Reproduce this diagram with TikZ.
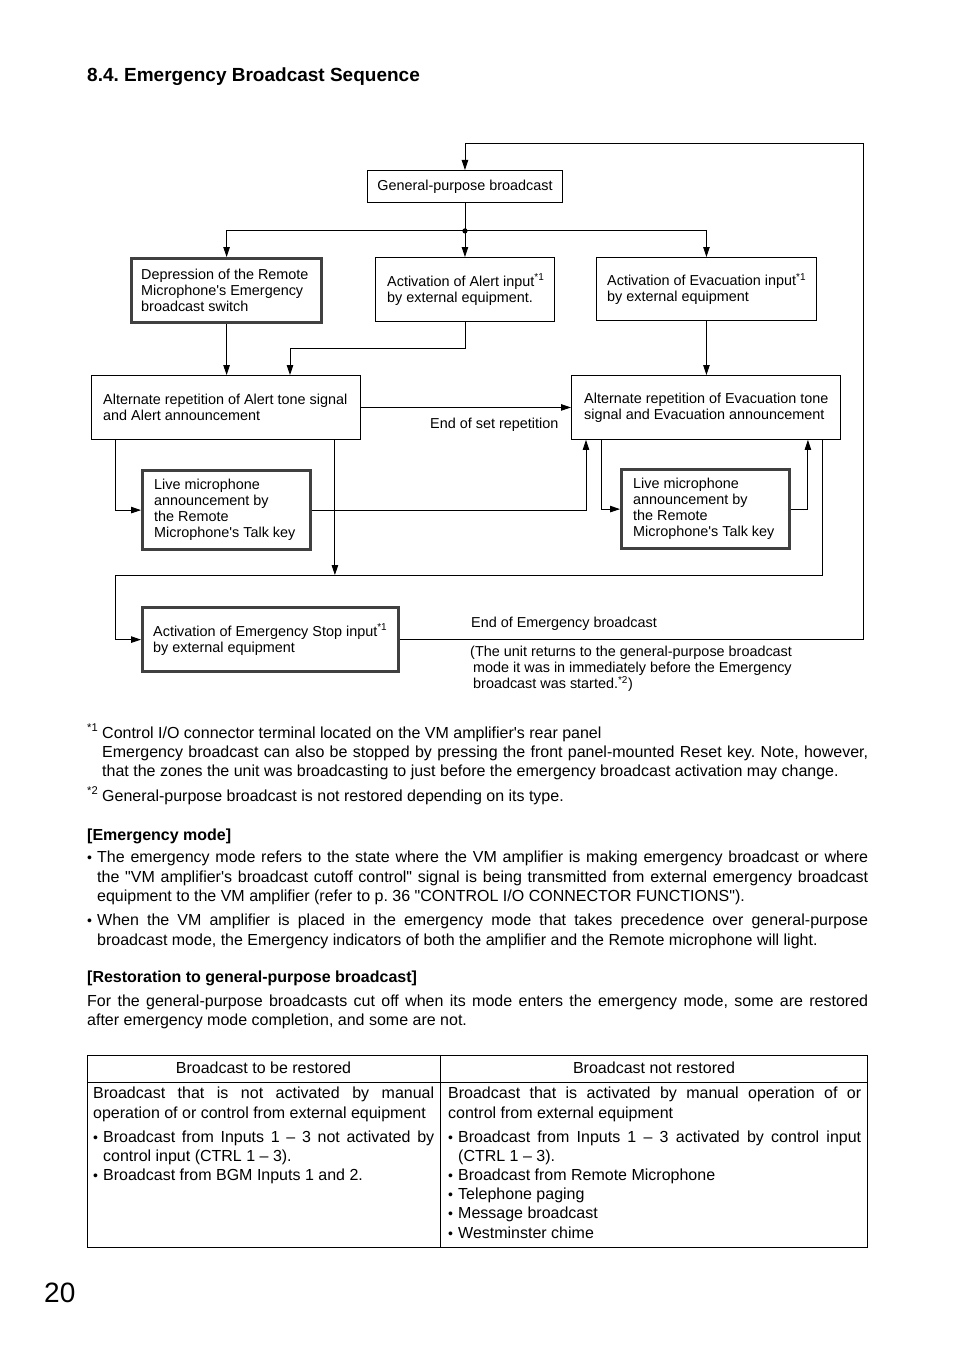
\documentclass[tikz,border=0pt]{standalone}
\usepackage{fontspec}
\setmainfont{Liberation Sans}[Ligatures=TeXOff]
\usetikzlibrary{arrows.meta}
\newcommand\jline[2]{\makebox[#1][s]{#2}}
\newcommand\bul{{\fontsize{14}{14}\selectfont •}}
\frenchspacing
\begin{document}
\begin{tikzpicture}[x=1pt,y=-1pt,
  box/.style={draw, line width=0.9pt, rectangle, inner sep=0pt, anchor=north west},
  tbox/.style={box, line width=3.2pt, draw=black!75},
  dtxt/.style={inner sep=0pt, font=\fontsize{14.4}{16}\selectfont, align=left, anchor=west},
  dlab/.style={inner sep=0pt, font=\fontsize{14.4}{16}\selectfont, anchor=base west},
  btxt/.style={inner sep=0pt, font=\fontsize{16}{19.5}\selectfont, anchor=base west},
  bbold/.style={inner sep=0pt, font=\fontsize{16}{19.5}\selectfont\bfseries, anchor=base west},
  ctxt/.style={inner sep=0pt, font=\fontsize{16}{19.5}\selectfont, anchor=base},
  arr/.style={-{Triangle[length=10pt,width=6.5pt]}, line width=0.9pt},
  ln/.style={line width=0.9pt}]
\fill[white] (0,0) rectangle (954,1351);
\useasboundingbox (0,0) rectangle (954,1351);

% heading
\node[inner sep=0pt, font=\fontsize{19}{23}\selectfont\bfseries, anchor=base west] (head) at (87,82) {8.4. Emergency Broadcast Sequence};

% boxes
\node[box, minimum width=195, minimum height=32] (gp) at (367,170) {};
\node[inner sep=0pt, font=\fontsize{14.4}{16}\selectfont] (gpt) at (gp.center) {General-purpose broadcast};

\node[tbox, minimum width=190, minimum height=64] (dep) at (130,257) {};
\node[dtxt] (dept) at ([xshift=11]dep.west) {Depression of the Remote\\Microphone's Emergency\\broadcast switch};

\node[box, minimum width=179, minimum height=64] (alrt) at (375,257) {};
\node[dtxt] (alrtt) at ([xshift=12]alrt.west) {Activation of Alert input\textsuperscript{*1}\\by external equipment.};

\node[box, minimum width=220, minimum height=63] (evac) at (596,257) {};
\node[dtxt] (evact) at ([xshift=11]evac.west) {Activation of Evacuation input\textsuperscript{*1}\\by external equipment};

\node[box, minimum width=269, minimum height=64] (altA) at (91,375) {};
\node[dtxt] (altAt) at ([xshift=12]altA.west) {Alternate repetition of Alert tone signal\\and Alert announcement};

\node[box, minimum width=269, minimum height=64] (altE) at (571,375) {};
\node[dtxt] (altEt) at ([xshift=13]altE.west) {Alternate repetition of Evacuation tone\\signal and Evacuation announcement};

\node[tbox, minimum width=168, minimum height=79] (liveL) at (141,469) {};
\node[dtxt] (liveLt) at ([xshift=13]liveL.west) {Live microphone\\announcement by\\the Remote\\Microphone's Talk key};

\node[tbox, minimum width=168, minimum height=79] (liveR) at (620,468) {};
\node[dtxt] (liveRt) at ([xshift=13]liveR.west) {Live microphone\\announcement by\\the Remote\\Microphone's Talk key};

\node[tbox, minimum width=256, minimum height=64] (stop) at (141,606) {};
\node[dtxt] (stopt) at ([xshift=12]stop.west) {Activation of Emergency Stop input\textsuperscript{*1}\\by external equipment};

% connectors
\coordinate (rtop) at (863,143);
\draw[arr] (stop.east) -| (rtop) -| (gp.north);
\path (gp.south) ++(0,28) coordinate (j);
\draw[ln] (gp.south) -- (j);
\fill (j) circle (2.6);
\draw[arr] (j) -| (dep.north);
\draw[arr] (j) -- (j |- alrt.north);
\draw[arr] (j) -| (evac.north);
\draw[arr] (dep.south) -- (dep.south |- altA.north);
\coordinate (a1) at (290,348);
\draw[arr] (alrt.south) |- (a1) -- (a1 |- altA.north);
\draw[arr] (evac.south) -- (evac.south |- altE.north);
\draw[arr] (altA.east) -- (altA.east -| altE.west);
\draw[arr] ([xshift=24]altA.south west) |- (liveL.west);
\draw[arr] (liveL.east) -| ([xshift=15]altE.south west);
\coordinate (loopL) at (115,575);
\draw[arr] ([xshift=-26]altA.south east) -- ([xshift=-26]altA.south east |- loopL);
\draw[arr] ([xshift=-18]altE.south east) |- (loopL) |- (stop.west);
\draw[arr] ([xshift=30]altE.south west) |- (liveR.west);
\draw[arr] (liveR.east) -| ([xshift=-33]altE.south east);

% diagram labels
\node[dlab] (lrep) at (430,428) {End of set repetition};
\node[dlab] (lend) at (471,627) {End of Emergency broadcast};
\node[inner sep=0pt, font=\fontsize{14.4}{16}\selectfont, align=left, anchor=north west] (lret) at (470,646) {(The unit returns to the general-purpose broadcast\\\hspace*{3pt}mode it was in immediately before the Emergency\\\hspace*{3pt}broadcast was started.\textsuperscript{*2})};

% footnotes
\node[btxt] (f1m) at (87,738) {\textsuperscript{*1}};
\node[btxt] (f1a) at (102,738) {Control I/O connector terminal located on the VM amplifier's rear panel};
\node[btxt] (f1b) at (102,757) {\jline{766pt}{Emergency broadcast can also be stopped by pressing the front panel-mounted Reset key. Note, however,}};
\node[btxt] (f1c) at (102,776) {that the zones the unit was broadcasting to just before the emergency broadcast activation may change.};
\node[btxt] (f2m) at (87,801) {\textsuperscript{*2}};
\node[btxt] (f2a) at (102,801) {General-purpose broadcast is not restored depending on its type.};

% emergency mode
\node[bbold] (em) at (87,840) {[Emergency mode]};
\node[btxt] (b1) at (87,862) {\bul};
\node[btxt] (e1a) at (97,862) {\jline{771pt}{The emergency mode refers to the state where the VM amplifier is making emergency broadcast or where}};
\node[btxt] (e1b) at (97,882) {\jline{771pt}{the "VM amplifier's broadcast cutoff control" signal is being transmitted from external emergency broadcast}};
\node[btxt] (e1c) at (97,901) {equipment to the VM amplifier (refer to p. 36 "CONTROL I/O CONNECTOR FUNCTIONS").};
\node[btxt] (b2) at (87,925) {\bul};
\node[btxt] (e2a) at (97,925) {\jline{771pt}{When the VM amplifier is placed in the emergency mode that takes precedence over general-purpose}};
\node[btxt] (e2b) at (97,945) {broadcast mode, the Emergency indicators of both the amplifier and the Remote microphone will light.};

% restoration
\node[bbold] (rs) at (87,982) {[Restoration to general-purpose broadcast]};
\node[btxt] (r1) at (87,1006) {\jline{781pt}{For the general-purpose broadcasts cut off when its mode enters the emergency mode, some are restored}};
\node[btxt] (r2) at (87,1025) {after emergency mode completion, and some are not.};

% table
\node[draw, line width=0.9pt, rectangle, inner sep=0pt, anchor=north west, minimum width=780, minimum height=192] (tab) at (87,1055) {};
\coordinate (hl) at (87,1082);
\coordinate (cv) at (440,1055);
\draw[ln] (hl) -- (hl -| tab.east);
\draw[ln] (cv) -- (cv |- tab.south);
\node[ctxt] (h1) at (263.5,1073) {Broadcast to be restored};
\node[ctxt] (h2) at (654,1073) {Broadcast not restored};

\node[btxt] (l1) at (93,1098) {\jline{341pt}{Broadcast that is not activated by manual}};
\node[btxt] (l2) at (93,1118) {operation of or control from external equipment};
\node[btxt] (lb1) at (93,1142) {\bul};
\node[btxt] (l3) at (103,1142) {\jline{331pt}{Broadcast from Inputs 1 – 3 not activated by}};
\node[btxt] (l4) at (103,1161) {control input (CTRL 1 – 3).};
\node[btxt] (lb2) at (93,1180) {\bul};
\node[btxt] (l5) at (103,1180) {Broadcast from BGM Inputs 1 and 2.};

\node[btxt] (q1) at (448,1098) {\jline{413pt}{Broadcast that is activated by manual operation of or}};
\node[btxt] (q2) at (448,1118) {control from external equipment};
\node[btxt] (qb1) at (448,1142) {\bul};
\node[btxt] (q3) at (458,1142) {\jline{403pt}{Broadcast from Inputs 1 – 3 activated by control input}};
\node[btxt] (q4) at (458,1161) {(CTRL 1 – 3).};
\node[btxt] (qb2) at (448,1180) {\bul};
\node[btxt] (q5) at (458,1180) {Broadcast from Remote Microphone};
\node[btxt] (qb3) at (448,1199) {\bul};
\node[btxt] (q6) at (458,1199) {Telephone paging};
\node[btxt] (qb4) at (448,1218) {\bul};
\node[btxt] (q7) at (458,1218) {Message broadcast};
\node[btxt] (qb5) at (448,1238) {\bul};
\node[btxt] (q8) at (458,1238) {Westminster chime};

% page number
\node[inner sep=0pt, font=\fontsize{28}{32}\selectfont, anchor=base west] (pg) at (44,1302) {20};
\end{tikzpicture}
\end{document}
